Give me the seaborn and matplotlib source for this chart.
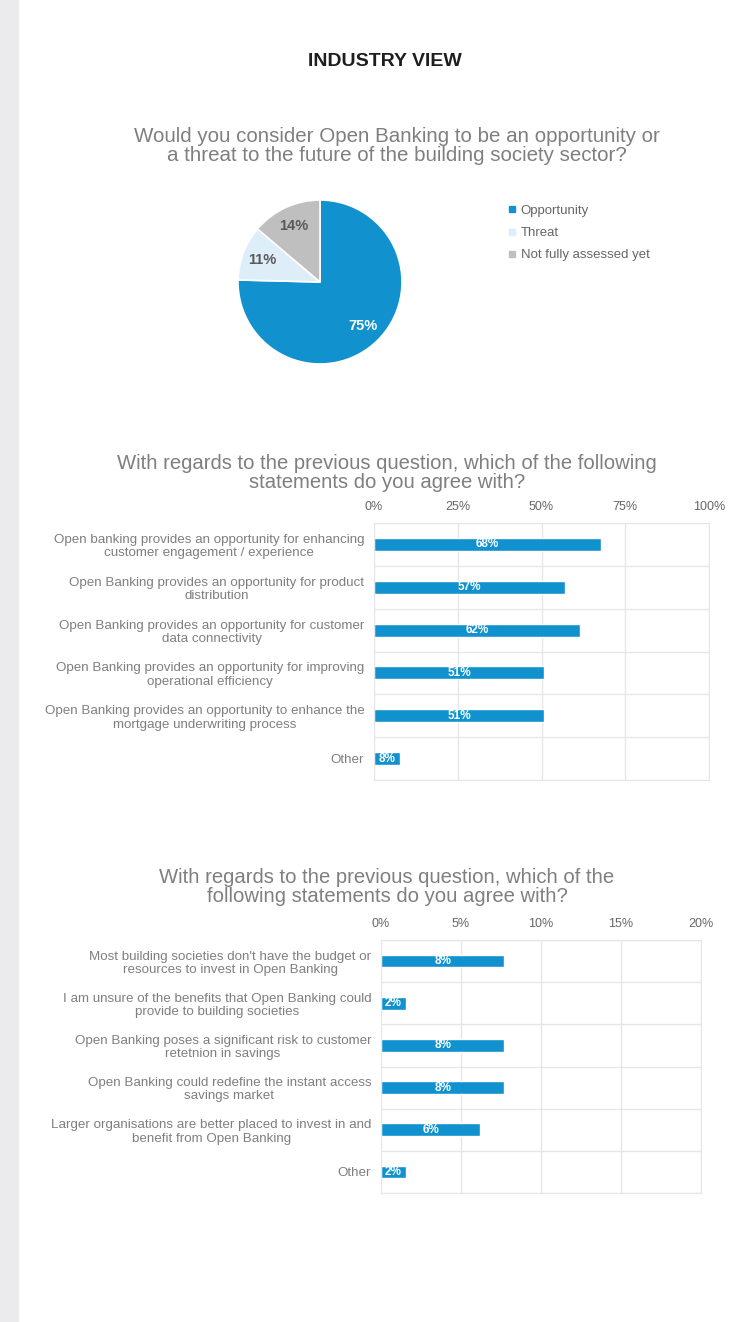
import numpy as np
import matplotlib
matplotlib.use("Agg")
import matplotlib.pyplot as plt
from matplotlib.lines import Line2D
from matplotlib.patches import Rectangle
import seaborn as sns

# ── data ──────────────────────────────────────────────────────────────────────
pie_labels = ["Opportunity", "Threat", "Not fully assessed yet"]
pie_values = [75.4, 10.8, 13.8]
pie_colors = ["#1192CF", "#DDEEF9", "#BFBFBF"]

q2_labels = [
    "Open banking provides an opportunity for enhancing\ncustomer engagement / experience",
    "Open Banking provides an opportunity for product\ndistribution",
    "Open Banking provides an opportunity for customer\ndata connectivity",
    "Open Banking provides an opportunity for improving\noperational efficiency",
    "Open Banking provides an opportunity to enhance the\nmortgage underwriting process",
    "Other",
]
q2_values = [67.7, 56.9, 61.5, 50.8, 50.8, 7.7]
q2_ticks = [0, 25, 50, 75, 100]

q3_labels = [
    "Most building societies don't have the budget or\nresources to invest in Open Banking",
    "I am unsure of the benefits that Open Banking could\nprovide to building societies",
    "Open Banking poses a significant risk to customer\nretetnion in savings",
    "Open Banking could redefine the instant access\nsavings market",
    "Larger organisations are better placed to invest in and\nbenefit from Open Banking",
    "Other",
]
q3_values = [7.7, 1.54, 7.7, 7.7, 6.2, 1.54]
q3_ticks = [0, 5, 10, 15, 20]

BLUE = "#1192CF"
GREY_TXT = "#7F7F7F"
GRID = "#E6E6E6"

sns.set_style("white")
plt.rcParams["font.family"] = ["Liberation Sans", "DejaVu Sans"]

W, H = 735, 1322
fig = plt.figure(figsize=(W / 100, H / 100), dpi=100)
fig.patch.set_facecolor("white")


def px_axes(left, top, right, bottom):
    return fig.add_axes([left / W, 1 - bottom / H, (right - left) / W, (bottom - top) / H])


# left grey strip
fig.patches.append(Rectangle((0, 0), 18 / W, 1, transform=fig.transFigure,
                             color="#EBEBEE", zorder=0))

fig.text(385 / W, 1 - 62 / H, "INDUSTRY VIEW", ha="center", va="center",
         fontsize=14, fontweight="bold", color="#1E1E1E")

# ── pie ───────────────────────────────────────────────────────────────────────
fig.text(397 / W, 1 - 146 / H,
         "Would you consider Open Banking to be an opportunity or\n"
         "a threat to the future of the building society sector?",
         ha="center", va="center", fontsize=14.8, color=GREY_TXT, linespacing=1.0)

ax_pie = px_axes(238, 200, 402, 364)
wedges, _, autotexts = ax_pie.pie(
    pie_values, colors=pie_colors, startangle=90, counterclock=False,
    autopct="%.0f%%", pctdistance=0.75,
    wedgeprops=dict(edgecolor="white", linewidth=1.2),
    textprops=dict(fontsize=10.5, fontweight="bold"))
autotexts[0].set_color("white")
for t in autotexts[1:]:
    t.set_color("#595959")
ax_pie.set_xlim(-1, 1)
ax_pie.set_ylim(-1, 1)
ax_pie.set_aspect("equal")

handles = [Line2D([], [], marker="s", linestyle="", markersize=4,
                  color=c) for c in pie_colors]
fig.legend(handles, pie_labels, loc="upper left",
           bbox_to_anchor=(495 / W, 1 - 193 / H), frameon=False,
           handletextpad=0.25, handlelength=0.8, labelspacing=0.75,
           fontsize=9.5, labelcolor="#666666")


# ── bar charts ────────────────────────────────────────────────────────────────
def bar_panel(ax, labels, values, ticks):
    sns.barplot(x=values, y=labels, orient="h", color=BLUE, width=0.3,
                saturation=1, ax=ax)
    ax.set_xlim(ticks[0], ticks[-1])
    ax.set_xticks(ticks)
    ax.set_xticklabels([f"{t}%" for t in ticks], fontsize=9, color="#666666")
    ax.xaxis.tick_top()
    ax.tick_params(axis="both", length=0, pad=7)
    ax.set_yticks(np.arange(-0.5, len(labels)), minor=True)
    ax.tick_params(axis="y", which="minor", length=0)
    ax.grid(axis="x", which="major", color=GRID, linewidth=1)
    ax.grid(axis="y", which="minor", color=GRID, linewidth=1)
    ax.set_axisbelow(True)
    for s in ax.spines.values():
        s.set_visible(True)
        s.set_color(GRID)
    for lab in ax.get_yticklabels():
        lab.set_fontsize(9.6)
        lab.set_color(GREY_TXT)
        lab.set_multialignment("center")
        lab.set_linespacing(1.15)
    ax.set_xlabel("")
    ax.set_ylabel("")
    ax.bar_label(ax.containers[0], fmt="{:.0f}%", label_type="center",
                 color="white", fontsize=8.5, fontweight="bold")


fig.text(387 / W, 1 - 473 / H,
         "With regards to the previous question, which of the following\n"
         "statements do you agree with?",
         ha="center", va="center", fontsize=14.6, color=GREY_TXT, linespacing=1.0)
ax1 = px_axes(374, 523, 709, 780)
bar_panel(ax1, q2_labels, q2_values, q2_ticks)

fig.text(387 / W, 1 - 887 / H,
         "With regards to the previous question, which of the\n"
         "following statements do you agree with?",
         ha="center", va="center", fontsize=14.6, color=GREY_TXT, linespacing=1.0)
ax2 = px_axes(381, 940, 701, 1193)
bar_panel(ax2, q3_labels, q3_values, q3_ticks)

fig.savefig("out.png", dpi=100, facecolor="white")
